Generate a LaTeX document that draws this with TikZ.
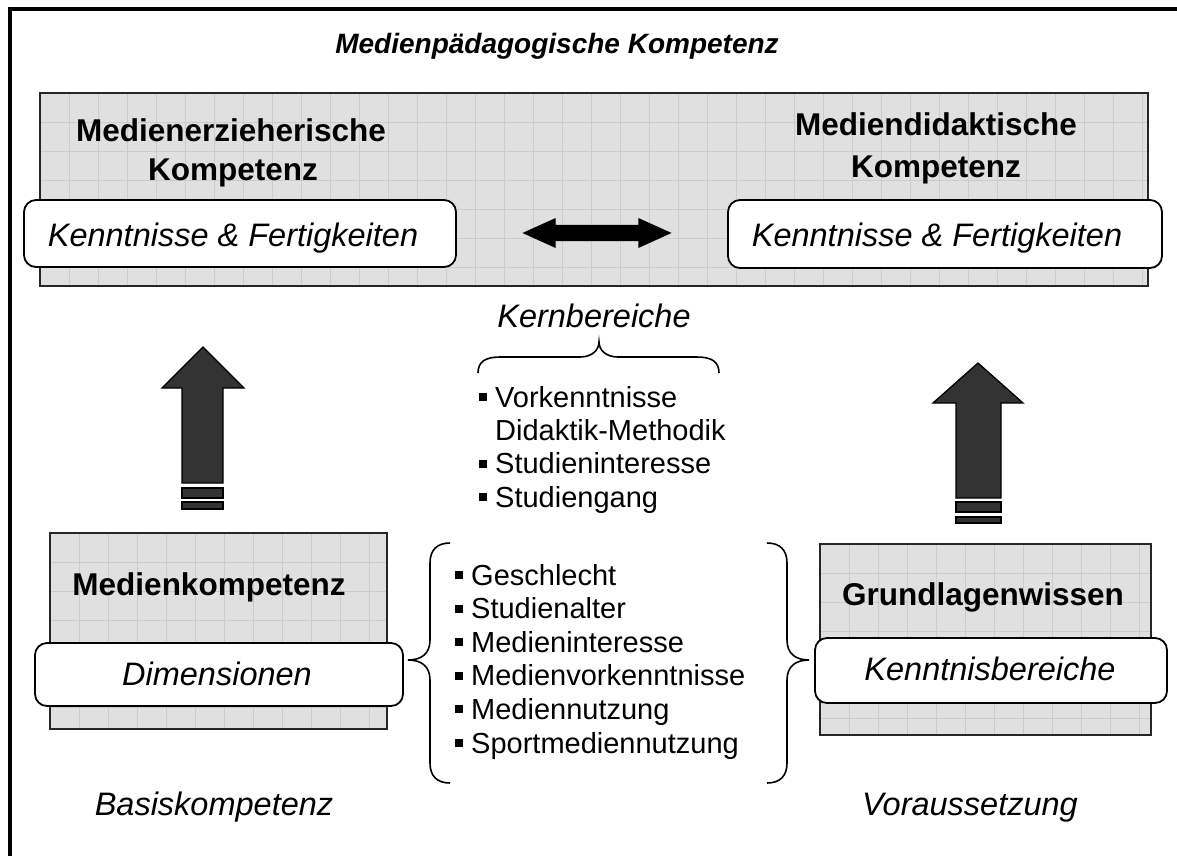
\documentclass[tikz,border=0pt]{standalone}
\usepackage{fontspec}
\setmainfont{Liberation Sans}
\definecolor{panelgray}{HTML}{E0E0E0}
\definecolor{gridgray}{HTML}{CBCBCB}
\definecolor{arrowgray}{HTML}{333333}
\newcommand\sqbullet{\rule[6pt]{8pt}{8pt}\hspace{8pt}}
\begin{document}
\begin{tikzpicture}[x=1pt,y=-1pt,
  gridline/.style={draw=gridgray, line width=0.9pt},
  panel/.style={rectangle, inner sep=0pt, fill=panelgray, draw=black!85, line width=2pt,
    path picture={
      \foreach \k in {1,...,40}{
        \draw[gridline] ([xshift=\k*29pt]path picture bounding box.north west) -- ++(0pt,-400pt);
        \draw[gridline] ([yshift=-\k*29pt]path picture bounding box.north west) -- ++(1200pt,0pt);
      }}},
  tag/.style={rectangle, inner sep=0pt, fill=white, draw=black, line width=1.8pt, rounded corners=12pt},
  heading/.style={font=\fontsize{31.5}{38}\selectfont\bfseries, anchor=base, inner sep=0pt},
  ital/.style={font=\fontsize{32.5}{39}\selectfont\itshape, anchor=base, inner sep=0pt},
  item/.style={font=\fontsize{29}{34}\selectfont, anchor=base west, inner sep=0pt},
  fatarrow/.style={fill=arrowgray, draw=black, line width=1.3pt, line join=miter},
  brace/.style={draw=black, line width=1.6pt}]

\useasboundingbox (0,0) rectangle (1177,855);
\clip (0,0) rectangle (1177,855);

% frame
\draw[line width=4.5pt, line join=miter] (10,900) -- (10,9) -- (1200,9);

% title
\node[font=\fontsize{28}{34}\selectfont\bfseries\itshape, anchor=base, inner sep=0pt] (title) at (557,53) {Medienpädagogische Kompetenz};

% upper panel
\node[panel, minimum width=1108pt, minimum height=193pt] (top) at (594,189.5) {};
\node[heading] (meh1) at (231,141) {Medienerzieherische};
\node[heading] (meh2) at (233,180) {Kompetenz};
\node[heading] (mdh1) at (936,135) {Mediendidaktische};
\node[heading] (mdh2) at (936,177) {Kompetenz};
\node[tag, minimum width=432pt, minimum height=67pt] (meTag) at (240,233.5) {};
\node[tag, minimum width=434pt, minimum height=68pt] (mdTag) at (945,234) {};
\node[ital] (meTxt) at (233,246) {Kenntnisse \& Fertigkeiten};
\node[ital] (mdTxt) at (937,246) {Kenntnisse \& Fertigkeiten};

% double arrow between the two areas
\draw[fatarrow, fill=black] (524,233) -- (555,219) -- (555,225.5) -- (639,225.5) -- (639,219)
  -- (670,233) -- (639,247) -- (639,240.5) -- (555,240.5) -- (555,247) -- cycle;

% core areas
\node[ital] (kern) at (594,327) {Kernbereiche};
\draw[brace] (478,373) .. controls (478,362) and (485,357) .. (500,357) -- (580,357)
  .. controls (592,357) and (599,350) .. (599,342)
  .. controls (599,350) and (606,357) .. (618,357) -- (697,357)
  .. controls (712,357) and (719,362) .. (719,373);
\begin{scope}[item/.append style={font=\fontsize{29}{34}\selectfont}]
\node[item] (k1) at (479,407) {\sqbullet Vorkenntnisse};
\node[item] (k2) at (495,440.3) {Didaktik-Methodik};
\node[item] (k3) at (479,473.6) {\sqbullet Studieninteresse};
\node[item] (k4) at (479,507) {\sqbullet Studiengang};
\end{scope}

% up arrows
\draw[fatarrow] (203,347) -- (244,388) -- (223,388) -- (223,483) -- (182,483) -- (182,388) -- (162,388) -- cycle;
\draw[fatarrow] (182,488) rectangle (223,498);
\draw[fatarrow] (182,502) rectangle (223,509);
\draw[fatarrow] (978,363) -- (1023,403) -- (1001,403) -- (1001,498) -- (956,498) -- (956,403) -- (933,403) -- cycle;
\draw[fatarrow] (956,502) rectangle (1001,512);
\draw[fatarrow] (956,517) rectangle (1001,523);

% lower left panel
\node[panel, minimum width=337pt, minimum height=196pt] (mk) at (218.5,631) {};
\node[heading] (mkh) at (209,595) {Medienkompetenz};
\node[tag, minimum width=368pt, minimum height=63pt] (dimTag) at (219,674.5) {};
\node[ital] (dimTxt) at (217,685) {Dimensionen};

% lower right panel
\node[panel, minimum width=331pt, minimum height=191pt] (gw) at (985.5,639.5) {};
\node[heading] (gwh) at (983,605) {Grundlagenwissen};
\node[tag, minimum width=352pt, minimum height=65pt] (kbTag) at (991,670.5) {};
\node[ital] (kbTxt) at (990,680) {Kenntnisbereiche};

% person-related factors
\draw[brace] (450,543) .. controls (437,543) and (430,550) .. (430,563) -- (430,640)
  .. controls (430,654) and (421,660) .. (408,660)
  .. controls (421,660) and (430,666) .. (430,680) -- (430,763)
  .. controls (430,776) and (437,783) .. (450,783);
\draw[brace] (767,543) .. controls (780,543) and (787,550) .. (787,563) -- (787,640)
  .. controls (787,654) and (796,660) .. (809,660)
  .. controls (796,660) and (787,666) .. (787,680) -- (787,763)
  .. controls (787,776) and (780,783) .. (767,783);
\node[item] (p1) at (455,585) {\sqbullet Geschlecht};
\node[item] (p2) at (455,618.6) {\sqbullet Studienalter};
\node[item] (p3) at (455,652.2) {\sqbullet Medieninteresse};
\node[item] (p4) at (455,685.8) {\sqbullet Medienvorkenntnisse};
\node[item] (p5) at (455,719.4) {\sqbullet Mediennutzung};
\node[item] (p6) at (455,753) {\sqbullet Sportmediennutzung};

% bottom captions
\node[ital] (basis) at (214,815) {Basiskompetenz};
\node[ital] (vor) at (970,815) {Voraussetzung};
\end{tikzpicture}
\end{document}
